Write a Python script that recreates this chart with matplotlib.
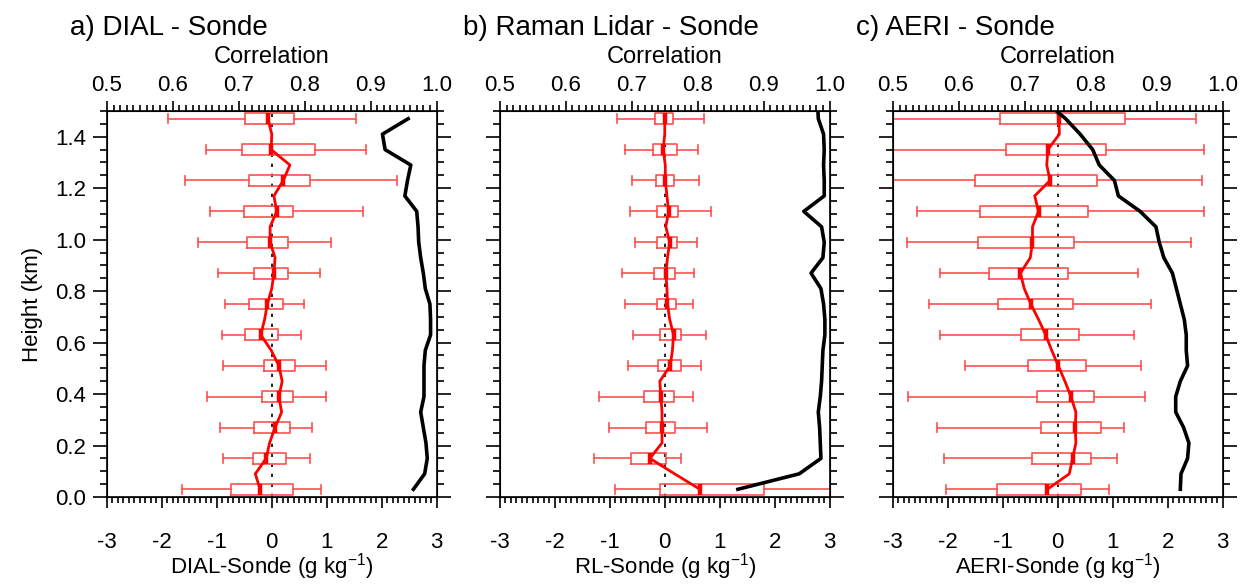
import matplotlib
matplotlib.use("Agg")
import matplotlib.pyplot as plt
from matplotlib.ticker import MultipleLocator

plt.rcParams['font.family'] = ['Liberation Sans', 'DejaVu Sans']
plt.rcParams['mathtext.fontset'] = 'custom'
plt.rcParams['mathtext.rm'] = 'Liberation Sans'
plt.rcParams['mathtext.it'] = 'Liberation Sans:italic'
plt.rcParams['mathtext.bf'] = 'Liberation Sans:bold'

# ---------------- data ----------------
box_heights = [0.03, 0.15, 0.27, 0.39, 0.51, 0.63, 0.75, 0.87, 0.99, 1.11, 1.23, 1.35, 1.47]
fine_heights = [0.03, 0.09, 0.15, 0.21, 0.27, 0.33, 0.39, 0.45, 0.51, 0.57, 0.63, 0.69, 0.75,
                0.81, 0.87, 0.93, 0.99, 1.05, 1.11, 1.17, 1.23, 1.29, 1.35, 1.41, 1.47]
fine_heights_ext = fine_heights + [1.53]

titles = ["a) DIAL - Sonde", "b) Raman Lidar - Sonde", "c) AERI - Sonde"]
xlabels = ["DIAL-Sonde (g kg$^{\\mathregular{-1}}$)", "RL-Sonde (g kg$^{\\mathregular{-1}}$)",
           "AERI-Sonde (g kg$^{\\mathregular{-1}}$)"]

# DIAL
dial_whislo = [-1.63, -0.89, -0.94, -1.17, -0.89, -0.90, -0.86, -0.97, -1.34, -1.13, -1.58, -1.19, -1.89]
dial_q1     = [-0.75, -0.35, -0.33, -0.17, -0.15, -0.48, -0.42, -0.32, -0.45, -0.50, -0.41, -0.55, -0.48]
dial_med    = [-0.21, -0.10, 0.06, 0.13, 0.13, -0.20, -0.08, 0.04, -0.03, 0.09, 0.21, -0.01, -0.07]
dial_q3     = [0.38, 0.26, 0.33, 0.39, 0.42, 0.12, 0.21, 0.29, 0.30, 0.39, 0.70, 0.78, 0.41]
dial_whishi = [0.89, 0.70, 0.73, 0.98, 0.99, 0.53, 0.58, 0.88, 1.07, 1.67, 2.28, 1.71, 1.53]
dial_medline = [-0.21, -0.30, -0.10, -0.04, 0.06, 0.18, 0.13, 0.19, 0.13, -0.01, -0.20, -0.13, -0.08,
                0.0, 0.04, 0.06, -0.03, -0.03, 0.09, 0.04, 0.21, 0.33, -0.01, 0.0, -0.07]
dial_corr = [0.965, 0.982, 0.986, 0.984, 0.980, 0.976, 0.981, 0.981, 0.981, 0.983, 0.991, 0.991, 0.990,
             0.983, 0.980, 0.976, 0.973, 0.972, 0.970, 0.952, 0.956, 0.961, 0.922, 0.918, 0.957]

# Raman lidar
rl_whislo = [-0.90, -1.29, -1.02, -1.19, -0.67, -0.57, -0.72, -0.78, -0.55, -0.63, -0.60, -0.73, -0.87]
rl_q1     = [-0.08, -0.61, -0.35, -0.38, -0.12, -0.09, -0.14, -0.20, -0.14, -0.15, -0.16, -0.21, -0.18]
rl_med    = [0.64, -0.27, -0.05, -0.07, 0.10, 0.16, 0.05, 0.02, 0.09, 0.07, 0.01, -0.03, 0.0]
rl_q3     = [1.80, 0.03, 0.18, 0.16, 0.29, 0.30, 0.20, 0.19, 0.22, 0.25, 0.16, 0.22, 0.15]
rl_whishi = [3.40, 0.29, 0.77, 0.51, 0.66, 0.75, 0.51, 0.53, 0.59, 0.84, 0.63, 0.61, 0.72]
rl_medline = [0.64, 0.18, -0.27, -0.05, -0.05, -0.05, -0.07, -0.09, 0.10, 0.14, 0.16, 0.09, 0.05,
              0.04, 0.02, 0.05, 0.09, 0.02, 0.07, 0.04, 0.01, 0.01, -0.03, 0.0, 0.0]
rl_corr = [0.861, 0.954, 0.987, 0.986, 0.985, 0.983, 0.986, 0.988, 0.989, 0.990, 0.993, 0.993, 0.991,
           0.987, 0.972, 0.990, 0.992, 0.988, 0.961, 0.992, 0.992, 0.991, 0.992, 0.991, 0.983, 0.982]

# AERI
aeri_whislo = [-2.03, -2.08, -2.20, -2.73, -1.68, -2.14, -2.35, -2.14, -2.74, -2.57, -3.40, -3.40, -3.40]
aeri_q1     = [-1.10, -0.47, -0.30, -0.37, -0.55, -0.67, -1.09, -1.26, -1.46, -1.41, -1.50, -0.95, -1.05]
aeri_med    = [-0.19, 0.27, 0.32, 0.24, 0.01, -0.22, -0.49, -0.68, -0.46, -0.35, -0.14, -0.18, 0.02]
aeri_q3     = [0.42, 0.61, 0.79, 0.66, 0.51, 0.38, 0.27, 0.18, 0.29, 0.55, 0.72, 0.87, 1.22]
aeri_whishi = [0.94, 1.07, 1.21, 1.58, 1.51, 1.39, 1.69, 1.47, 2.43, 2.66, 2.62, 2.66, 2.51]
aeri_medline = [-0.19, 0.21, 0.27, 0.33, 0.32, 0.33, 0.24, 0.13, 0.01, -0.11, -0.22, -0.35, -0.49,
                -0.61, -0.68, -0.50, -0.46, -0.46, -0.35, -0.42, -0.14, -0.20, -0.18, 0.03, 0.02, -0.03]
aeri_corr = [0.936, 0.937, 0.947, 0.949, 0.941, 0.929, 0.929, 0.936, 0.947, 0.945, 0.945, 0.942, 0.936,
             0.930, 0.924, 0.911, 0.904, 0.899, 0.875, 0.842, 0.836, 0.813, 0.803, 0.784, 0.762, 0.734]

panels = [
    (dial_whislo, dial_q1, dial_med, dial_q3, dial_whishi, dial_medline, fine_heights, dial_corr, fine_heights),
    (rl_whislo, rl_q1, rl_med, rl_q3, rl_whishi, rl_medline, fine_heights, rl_corr, fine_heights_ext),
    (aeri_whislo, aeri_q1, aeri_med, aeri_q3, aeri_whishi, aeri_medline, fine_heights_ext, aeri_corr, fine_heights_ext),
]

# ---------------- figure ----------------
W, H = 1242, 586
fig = plt.figure(figsize=(W / 100, H / 100), dpi=100)
lefts = [107, 500, 893]
ax_w, ax_top, ax_bot = 329.5, 111, 497

box_col = '#ff5050'
for i, (wlo, q1, med, q3, whi, mline, mh, corr, ch) in enumerate(panels):
    ax = fig.add_axes([lefts[i] / W, (H - ax_bot) / H, ax_w / W, (ax_bot - ax_top) / H])
    stats = [dict(whislo=a, q1=b, med=c, q3=d, whishi=e) for a, b, c, d, e in zip(wlo, q1, med, q3, whi)]
    ax.bxp(stats, positions=box_heights, widths=0.042, orientation='horizontal',
           showfliers=False, manage_ticks=False, capwidths=0.034,
           boxprops=dict(color=box_col, lw=1.2),
           whiskerprops=dict(color=box_col, lw=1.2),
           capprops=dict(color=box_col, lw=1.2),
           medianprops=dict(color='red', lw=3.2, solid_capstyle='butt'))
    ax.plot(mline, mh, color='red', lw=2)
    ax.plot([0, 0], [0, 1.5], color='black', lw=1.2, ls=(0, (2, 4)), zorder=1)
    ax.set_xlim(-3, 3)
    ax.set_ylim(0, 1.5)
    ax.xaxis.set_major_locator(MultipleLocator(1))
    ax.xaxis.set_minor_locator(MultipleLocator(0.1))
    ax.yaxis.set_major_locator(MultipleLocator(0.2))
    ax.yaxis.set_minor_locator(MultipleLocator(0.05))
    ax.tick_params(axis='x', which='both', direction='out', bottom=True, top=False,
                   labelsize=16, pad=17, width=1.2)
    ax.tick_params(axis='x', which='major', length=8)
    ax.tick_params(axis='x', which='minor', length=4.5)
    ax.tick_params(axis='y', which='both', direction='out', left=True, right=True,
                   labelleft=(i == 0), labelsize=16, pad=5, width=1.2)
    ax.tick_params(axis='y', which='major', length=10)
    ax.tick_params(axis='y', which='minor', length=5)
    ax.set_xticks([-3, -2, -1, 0, 1, 2, 3])
    ax.set_xticklabels(['-3', '-2', '-1', '0', '1', '2', '3'])
    if i == 0:
        ax.set_yticklabels(['%.1f' % v for v in ax.get_yticks()])
        ax.set_ylabel('Height (km)', fontsize=16, labelpad=9)
    ax.set_xlabel(xlabels[i], fontsize=16, labelpad=-1.5)
    for s in ax.spines.values():
        s.set_linewidth(1.2)

    ax2 = ax.twiny()
    ax2.plot(corr, ch, color='black', lw=2.6)
    ax2.set_xlim(0.5, 1.0)
    ax2.set_ylim(0, 1.5)
    ax2.xaxis.set_major_locator(MultipleLocator(0.1))
    ax2.xaxis.set_minor_locator(MultipleLocator(0.01))
    ax2.set_xticks([0.5, 0.6, 0.7, 0.8, 0.9, 1.0])
    ax2.set_xticklabels(['0.5', '0.6', '0.7', '0.8', '0.9', '1.0'])
    ax2.tick_params(axis='x', which='both', direction='out', labelsize=16, pad=3, width=1.2)
    ax2.tick_params(axis='x', which='major', length=7.5)
    ax2.tick_params(axis='x', which='minor', length=4.5)
    ax2.set_xlabel('Correlation', fontsize=17, labelpad=9)

    fig.text((lefts[i] - 37) / W, 1 - 35 / H, titles[i], fontsize=20, ha='left', va='baseline')

fig.savefig('out.png', dpi=100)
